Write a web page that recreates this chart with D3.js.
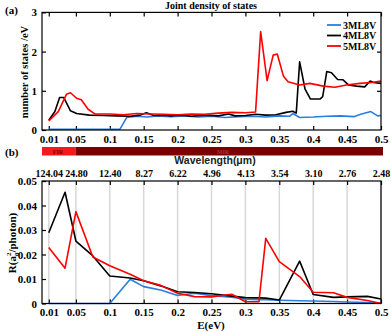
<!DOCTYPE html>
<html><head><meta charset="utf-8">
<script src="https://cdn.jsdelivr.net/npm/d3@7"></script>
<style>
body{margin:0;background:#fff;}
svg{display:block;}
.tk text{font-family:"Liberation Serif","Times New Roman",serif;font-weight:bold;font-size:11px;fill:#000;}
.tk line{stroke:#000;stroke-width:1.2;}
.tk path{display:none;}
.wv text{font-size:10px;}
</style></head>
<body>
<svg id="c" width="391" height="332"></svg>
<script>
// ---- data ----
const xTicks = [0.01,0.05,0.1,0.15,0.2,0.25,0.3,0.35,0.4,0.45,0.5];
const xTickLabels = ["0.01","0.05","0.1","0.15","0.2","0.25","0.3","0.35","0.4","0.45","0.5"];
const waveLabels = ["124.04","24.80","12.40","8.27","6.22","4.96","4.13","3.54","3.10","2.76","2.48"];
const yTopTicks = [0,1,2,3];
const yBotTicks = [0,0.01,0.02,0.03,0.04,0.05];
const yBotLabels = ["0","0.01","0.02","0.03","0.04","0.05"];
const seriesNames = ["3ML8V","4ML8V","5ML8V"];
const seriesColors = ["#2a7de1","#000000","#ff0000"];

// Panel (a): joint density of states
const eA3 = [0.01,0.115,0.125,0.14,0.155,0.17,0.19,0.21,0.23,0.25,0.27,0.29,0.31,0.33,0.35,0.365,0.37,0.38,0.4,0.42,0.44,0.46,0.47,0.485,0.495,0.5];
const vA3 = [0.02,0.02,0.32,0.35,0.33,0.36,0.34,0.36,0.33,0.35,0.32,0.34,0.35,0.33,0.36,0.35,0.42,0.32,0.33,0.35,0.36,0.34,0.40,0.47,0.36,0.37];
const eA4 = [0.01,0.019,0.026,0.032,0.042,0.051,0.07,0.09,0.11,0.13,0.145,0.154,0.165,0.18,0.19,0.2,0.21,0.22,0.24,0.26,0.275,0.285,0.3,0.315,0.33,0.345,0.36,0.37,0.375,0.38,0.388,0.396,0.41,0.414,0.42,0.427,0.436,0.444,0.452,0.464,0.476,0.484,0.489,0.5];
const vA4 = [0.25,0.47,0.83,0.83,0.49,0.42,0.38,0.37,0.36,0.35,0.38,0.44,0.37,0.38,0.36,0.38,0.37,0.35,0.38,0.36,0.41,0.36,0.37,0.40,0.38,0.39,0.45,0.48,0.43,1.74,1.04,0.79,0.79,0.85,1.49,1.46,1.29,1.28,1.15,1.12,1.10,1.25,1.21,1.19];
const eA5 = [0.01,0.024,0.036,0.042,0.051,0.058,0.068,0.078,0.1,0.12,0.14,0.16,0.18,0.2,0.22,0.24,0.26,0.28,0.3,0.315,0.3225,0.332,0.341,0.347,0.356,0.363,0.38,0.395,0.415,0.432,0.449,0.469,0.486,0.5];
const vA5 = [0.23,0.47,0.91,0.95,0.81,0.77,0.53,0.41,0.41,0.39,0.42,0.41,0.40,0.39,0.41,0.40,0.43,0.45,0.44,0.46,2.51,1.26,1.91,1.94,1.38,1.23,1.15,1.19,1.12,1.09,1.15,1.19,1.21,1.25];

// Panel (b): R
const eB = [0.01,0.034,0.05,0.075,0.1,0.13,0.15,0.175,0.2,0.225,0.25,0.28,0.3,0.32,0.33,0.35,0.38,0.4,0.43,0.45,0.48,0.5];
const vB3 = [0,0,0,0,0,0.0099,0.0069,0.0055,0.0033,0.0042,0.0032,0.0026,0.0018,0.0016,0.0015,0.0013,0.0011,0.001,0.0008,0.0006,0.0004,0.0002];
const vB4 = [0.0289,0.0454,0.0255,0.0194,0.0112,0.0104,0.0093,0.0072,0.0048,0.0045,0.004,0.003,0.0024,0.0023,0.0022,0.0014,0.0173,0.0037,0.0025,0.0027,0.0029,0.0018];
const vB5 = [0.0229,0.0144,0.0375,0.019,0.0154,0.0119,0.0093,0.0074,0.0042,0.0028,0.0027,0.0038,0.0007,0.0007,0.0266,0.0171,0.011,0.0046,0.0044,0.0025,0.0012,0];

// ---- drawing ----
const svg = d3.select("#c");
const L=42, R=381;
const x = d3.scaleLinear().domain([0,0.5]).range([L,R]);
const yA = d3.scaleLinear().domain([0,3]).range([130,12.4]);
const yB = d3.scaleLinear().domain([0,0.05]).range([303.5,181]);
const serif = '"Liberation Serif","Times New Roman",serif';

// Panel a
svg.append("g").attr("class","tk").attr("transform","translate(0,130)")
  .call(d3.axisBottom(x).tickValues(xTicks).tickFormat((d,i)=>xTickLabels[i]).tickSizeInner(-4).tickSizeOuter(0).tickPadding(5));
svg.append("g").attr("class","tk").attr("transform","translate(0,12.4)")
  .call(d3.axisTop(x).tickValues(xTicks).tickFormat("").tickSizeInner(-4).tickSizeOuter(0));
svg.append("g").attr("class","tk").attr("transform",`translate(${L},0)`)
  .call(d3.axisLeft(yA).tickValues(yTopTicks).tickFormat(d3.format("d")).tickSizeInner(-4).tickSizeOuter(0).tickPadding(5));
svg.append("g").attr("class","tk").attr("transform",`translate(${R},0)`)
  .call(d3.axisRight(yA).tickValues([1,2]).tickFormat("").tickSizeInner(-4).tickSizeOuter(0));

const lineA = (E,V)=>d3.line().x((d,i)=>x(E[i])).y(d=>yA(d))(V);
const gA = svg.append("g");
[[eA3,vA3,0],[eA4,vA4,1],[eA5,vA5,2]].forEach(([E,V,k])=>{
  gA.append("path").attr("d",lineA(E,V)).attr("fill","none").attr("stroke",seriesColors[k]).attr("stroke-width",1.6).attr("stroke-linejoin","round");
});
svg.append("rect").attr("x",L).attr("y",yA(3)).attr("width",R-L).attr("height",yA(0)-yA(3))
  .attr("fill","none").attr("stroke","#000").attr("stroke-width",1.2);

// legend
seriesNames.forEach((n,i)=>{
  const yy = 25 + i*10.5;
  svg.append("line").attr("x1",327).attr("x2",341).attr("y1",yy).attr("y2",yy).attr("stroke",seriesColors[i]).attr("stroke-width",1.8);
  svg.append("text").attr("x",343).attr("y",yy+3.5).text(n)
    .attr("font-family",serif).attr("font-weight","bold").attr("font-size",10);
});

svg.append("text").attr("x",211).attr("y",9).attr("text-anchor","middle").text("Joint density of states")
  .attr("font-family",serif).attr("font-weight","bold").attr("font-size",10);
svg.append("text").attr("x",5).attr("y",14).text("(a)")
  .attr("font-family",serif).attr("font-weight","bold").attr("font-size",11);
svg.append("text").attr("transform","translate(28,72) rotate(-90)").attr("text-anchor","middle").text("number of states /eV")
  .attr("font-family",serif).attr("font-weight","bold").attr("font-size",10.5);

// color band
svg.append("rect").attr("x",L).attr("y",147).attr("width",x(0.05)-L).attr("height",8.5).attr("fill","#f51a1a");
svg.append("rect").attr("x",x(0.05)).attr("y",147).attr("width",R+2-x(0.05)).attr("height",8.5).attr("fill","#7a0000");
svg.append("text").attr("x",58).attr("y",153.5).attr("text-anchor","middle").text("FIR")
  .attr("font-family",serif).attr("font-weight","bold").attr("font-size",6).attr("fill","#8a0000");
svg.append("text").attr("x",223).attr("y",153.5).attr("text-anchor","middle").text("MIR")
  .attr("font-family",serif).attr("font-weight","bold").attr("font-size",6).attr("fill","#b03030");
svg.append("text").attr("x",5).attr("y",156).text("(b)")
  .attr("font-family",serif).attr("font-weight","bold").attr("font-size",11);

// Panel b
svg.append("text").attr("x",215).attr("y",164).attr("text-anchor","middle").text("Wavelength(μm)")
  .attr("font-family",'"Liberation Sans",Arial,sans-serif').attr("font-weight","bold").attr("font-size",10.5).attr("fill","#222");
const grid = svg.append("g");
xTicks.forEach(t=>{
  grid.append("line").attr("x1",x(t)).attr("x2",x(t)).attr("y1",yB(0.05)).attr("y2",yB(0))
    .attr("stroke","#d8d8d8").attr("stroke-width",1.5);
});
svg.append("g").attr("class","tk").attr("transform","translate(0,303.5)")
  .call(d3.axisBottom(x).tickValues(xTicks).tickFormat((d,i)=>xTickLabels[i]).tickSizeInner(-4).tickSizeOuter(0).tickPadding(5));
svg.append("g").attr("class","tk wv").attr("transform",`translate(0,${yB(0.05)})`)
  .call(d3.axisTop(x).tickValues(xTicks).tickFormat((d,i)=>waveLabels[i]).tickSizeInner(-4).tickSizeOuter(0).tickPadding(4.5));
svg.append("g").attr("class","tk").attr("transform",`translate(${L},0)`)
  .call(d3.axisLeft(yB).tickValues(yBotTicks).tickFormat((d,i)=>yBotLabels[i]).tickSizeInner(-4).tickSizeOuter(0).tickPadding(5));

const lineB = d3.line().x((d,i)=>x(eB[i])).y(d=>yB(d));
[[vB3,0],[vB4,1],[vB5,2]].forEach(([V,k])=>{
  svg.append("path").attr("d",lineB(V)).attr("fill","none").attr("stroke",seriesColors[k]).attr("stroke-width",1.6).attr("stroke-linejoin","round");
});
svg.append("rect").attr("x",L).attr("y",yB(0.05)).attr("width",R-L).attr("height",yB(0)-yB(0.05))
  .attr("fill","none").attr("stroke","#000").attr("stroke-width",1.2);

svg.append("text").attr("x",211).attr("y",329).attr("text-anchor","middle").text("E(eV)")
  .attr("font-family",serif).attr("font-weight","bold").attr("font-size",11);
const yl = svg.append("text").attr("transform","translate(16,243) rotate(-90)").attr("text-anchor","middle")
  .attr("font-family",serif).attr("font-weight","bold").attr("font-size",11);
yl.append("tspan").text("R(a");
yl.append("tspan").attr("font-size",7).attr("dy",3).text("0");
yl.append("tspan").attr("font-size",7).attr("dx",-3.5).attr("dy",-8).text("2");
yl.append("tspan").attr("dy",5).text("/photon)");
</script>
</body></html>
